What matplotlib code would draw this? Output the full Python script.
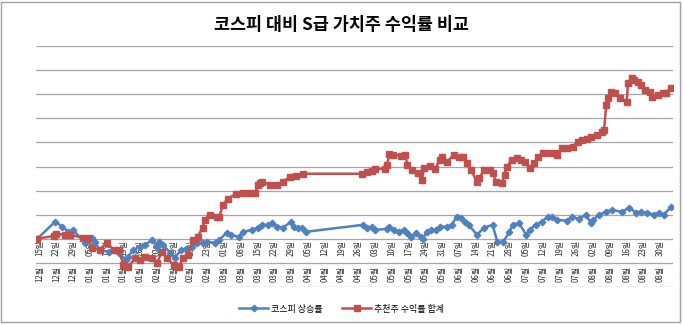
import datetime as dt
import matplotlib
matplotlib.use('Agg')
import matplotlib.pyplot as plt
from matplotlib.patches import Rectangle

plt.rcParams['font.family'] = ['Noto Sans CJK KR', 'DejaVu Sans']

start = dt.date(2011, 12, 15)

# days since start, cumulative return (%)
kospi_days = [0, 7.5, 10.5, 13, 15, 20, 23, 24, 26, 30, 34, 37, 38, 40, 43, 45, 48, 50, 51, 52.5,
              55.5, 57.5, 60, 62, 64.5, 66.5, 69, 71, 74, 76, 79, 81, 84, 86, 89.5, 92, 94, 96.5,
              98, 100, 102.5, 106, 107, 109, 110.5, 112, 136, 137.5, 139.5, 141, 146, 147, 149,
              151, 153, 154.5, 156, 158, 160, 161, 162.5, 164.5, 166.5, 168, 171, 173, 175, 177,
              178.5, 180, 183.5, 186.5, 190, 192, 194.5, 197, 198.5, 201, 204, 205.5, 208, 210.5,
              213, 215, 217, 221, 223, 226, 229, 231, 232, 234.5, 237.5, 240, 244, 247, 250, 252,
              254.5, 257.5, 259.5, 261.5, 264.5]
kospi_vals = [0, 7.1, 5.0, 2.9, 3.7, -1.7, 0.4, -1.2, -4.6, -5.4, -5.8, -8.7, -7.5, -4.6, -3.3,
              -2.5, -0.4, -3.3, -1.2, -2.5, -5.8, -7.9, -4.6, -4.1, -3.3, -1.7, -1.7, -1.2, -1.7,
              -0.4, 2.5, 1.7, 0.8, 2.9, 3.7, 4.6, 5.8, 5.8, 6.6, 5.0, 4.6, 7.1, 5.0, 4.6, 4.6, 2.9,
              5.8, 4.6, 5.0, 3.7, 4.1, 5.0, 3.7, 2.9, 3.7, 2.5, 0.8, 2.5, 0.8, 0.0, 2.9, 3.7, 3.7,
              5.0, 5.0, 5.8, 9.1, 8.7, 7.1, 5.8, 1.7, 4.6, 5.8, -1.2, -1.2, 2.9, 5.8, 6.6, 1.7, 3.7,
              5.8, 7.1, 9.1, 9.1, 7.9, 7.5, 9.1, 8.3, 10.0, 6.6, 7.9, 10.0, 11.2, 12.0, 11.2, 12.9,
              10.8, 11.2, 10.8, 10.0, 10.8, 10.0, 13.3]

pick_days = [0, 7, 8, 11.5, 13.5, 19, 21, 23, 26, 29, 32, 34, 36, 38, 41, 43, 45, 48, 50, 52, 54,
             57, 59, 61, 63, 65, 67, 69, 70, 72, 75, 76, 77.5, 79.5, 83, 86, 89, 91, 92, 93, 94,
             97, 100, 102.5, 105.5, 108, 111, 135.5, 137.5, 139.5, 141, 145, 146, 147, 148.5, 152,
             153.5, 154.5, 156.5, 159, 160.5, 161.5, 164, 166, 168, 169, 171, 174, 176, 177.5,
             179.5, 181, 183.5, 184.5, 186.5, 189, 190, 191.5, 194, 195, 196, 198, 200, 202,
             203.5, 205.5, 207.5, 209, 211, 214, 216, 217, 219, 221, 223.5, 225.5, 227.5, 229.5,
             231, 233.5, 235.5, 236.5, 237.5, 238, 239.5, 241, 243, 246, 246.5, 248, 249, 250.5,
             252, 253.5, 255.5, 256.5, 259, 261, 262.5, 264.5]
pick_vals = [0, 1.2, 2.0, 1.7, 1.7, 0.4, 0.4, -3.7, -4.6, -1.7, -4.6, -4.6, -10.8, -11.6, -7.9,
             -8.7, -7.5, -7.9, -10.0, -5.4, -7.9, -10.8, -11.6, -7.9, -6.6, -0.4, 0.8, 4.6, 7.9,
             10.0, 9.1, 9.1, 14.1, 16.6, 18.7, 19.0, 19.0, 19.0, 22.4, 23.2, 23.7, 22.4, 22.4,
             23.7, 25.7, 26.1, 27.0, 27.0, 27.8, 28.2, 29.0, 29.0, 30.7, 35.3, 34.9, 34.4, 34.9,
             30.7, 28.6, 27.4, 24.5, 29.5, 30.3, 29.0, 32.8, 34.0, 32.0, 34.9, 34.0, 34.0, 31.5,
             28.6, 23.7, 25.3, 28.6, 28.6, 27.4, 23.7, 23.2, 26.6, 29.9, 32.8, 33.6, 32.8, 32.0,
             29.5, 31.5, 34.0, 35.7, 35.7, 35.7, 34.9, 37.8, 37.8, 38.2, 40.2, 41.1, 41.5, 42.3,
             43.2, 44.4, 45.2, 55.6, 58.5, 61.0, 60.6, 58.5, 56.8, 64.7, 66.8, 66.0, 65.1, 63.9,
             61.8, 61.0, 58.9, 59.8, 60.6, 60.6, 62.7]

n_weeks = 38
tick_days = [7 * k for k in range(n_weeks)]
tick_dates = [start + dt.timedelta(days=d) for d in tick_days]
day_labels = [f'{t.day:02d}일' for t in tick_dates]
month_labels = [f'{t.month:02d}월' for t in tick_dates]

fig = plt.figure(figsize=(6.83, 3.25), dpi=100)
ax = fig.add_axes([36 / 683, 1 - 287 / 325, 637 / 683, 241 / 325])

ax.plot(kospi_days, kospi_vals, color='#4F81BD', lw=1.8, marker='D', ms=3.3,
        mec='#4F81BD', label='코스피 상승률', zorder=3)
ax.plot(pick_days, pick_vals, color='#C0504D', lw=1.8, marker='s', ms=4.8,
        mec='#C0504D', label='추천주 수익률 합계', zorder=3)

ax.set_xlim(-0.5, 265.3)
ax.set_ylim(-20, 80)
ax.set_yticks(range(-20, 81, 10))
ax.set_xticks([])
ax.tick_params(axis='y', length=0, labelleft=False)
ax.grid(axis='y', color='#A6A6A6', lw=0.9)
ax.set_axisbelow(True)
for s in ax.spines.values():
    s.set_visible(False)

# two-row date labels sitting on the zero line
for d, dl, ml in zip(tick_days, day_labels, month_labels):
    ax.text(d + 1, -0.5, dl, rotation=90, ha='center', va='top', fontsize=5.7,
            color='#333333', zorder=2)
    ax.text(d + 1, -11.4, ml, rotation=90, ha='center', va='top', fontsize=5.7,
            color='#333333', zorder=2)

fig.text(0.5, 0.923, '코스피 대비 S급 가치주 수익률 비교', ha='center', va='center',
         fontsize=12.5, fontweight='bold')

fig.legend(loc='center', bbox_to_anchor=(0.5, 1 - 309 / 325), ncol=2, frameon=False,
           fontsize=6.5, handlelength=3.2, columnspacing=2.2, handletextpad=0.3)

fig.patches.append(Rectangle((1 / 683, 1 - 322 / 325), 679 / 683, 320 / 325,
                             transform=fig.transFigure, fill=False, ec='#A0A0A0', lw=1))

fig.savefig('out.png', dpi=100)
